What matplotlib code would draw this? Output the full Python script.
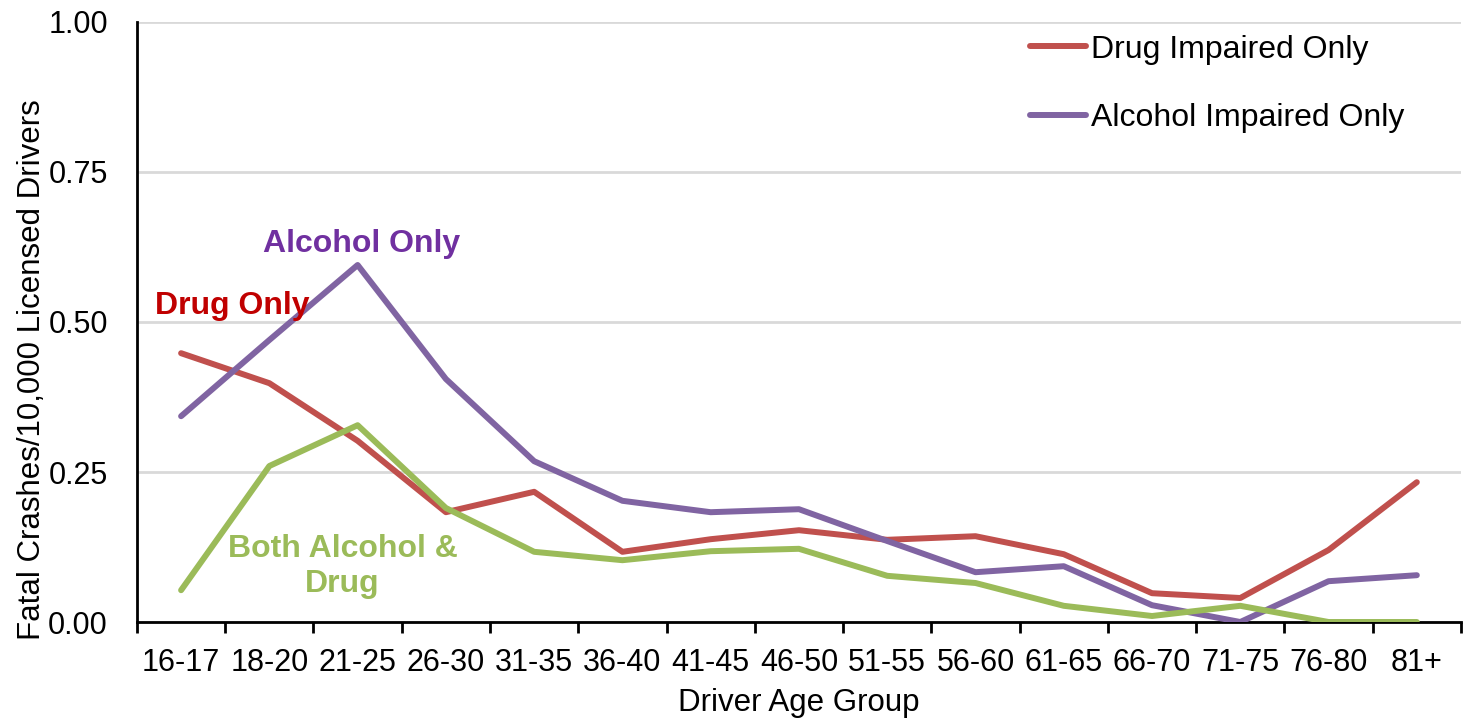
import matplotlib.pyplot as plt
import numpy as np

plt.rcParams['font.family'] = ['Liberation Sans', 'DejaVu Sans']

age_groups = ['16-17', '18-20', '21-25', '26-30', '31-35', '36-40', '41-45',
              '46-50', '51-55', '56-60', '61-65', '66-70', '71-75', '76-80', '81+']
drug_only = [0.448, 0.398, 0.302, 0.183, 0.217, 0.117, 0.138, 0.153,
             0.137, 0.143, 0.113, 0.048, 0.040, 0.120, 0.233]
alcohol_only = [0.343, 0.470, 0.595, 0.405, 0.268, 0.202, 0.183, 0.188,
                0.135, 0.083, 0.093, 0.028, 0.000, 0.068, 0.078]
both = [0.053, 0.260, 0.328, 0.190, 0.117, 0.103, 0.118, 0.122,
        0.077, 0.065, 0.027, 0.010, 0.027, 0.000, 0.000]

x = np.arange(len(age_groups))

fig = plt.figure(figsize=(14.68, 7.21), dpi=100)
ax = fig.add_axes([0.0933, 0.1373, 0.9019, 0.8322])

lw = 4.3
ax.plot(x, drug_only, color='#C0504D', lw=lw, solid_capstyle='round', solid_joinstyle='round',
        label='Drug Impaired Only', zorder=3)
ax.plot(x, alcohol_only, color='#8064A2', lw=lw, solid_capstyle='round', solid_joinstyle='round',
        label='Alcohol Impaired Only', zorder=3)
ax.plot(x, both, color='#9BBB59', lw=lw, solid_capstyle='round', solid_joinstyle='round', zorder=3)

ax.set_xlim(-0.5, len(age_groups) - 0.5)
ax.set_ylim(0, 1.0)
ax.set_yticks([0, 0.25, 0.5, 0.75, 1.0])
ax.set_yticklabels([f'{v:.2f}' for v in [0, 0.25, 0.5, 0.75, 1.0]])
ax.tick_params(axis='y', length=0, pad=21, labelsize=22)
ax.yaxis.grid(True, color='#D9D9D9', lw=2)
ax.set_axisbelow(True)

# category boundaries carry the tick marks, centers carry the labels
ax.set_xticks(np.arange(len(age_groups) + 1) - 0.5)
ax.set_xticklabels([])
ax.set_xticks(x, minor=True)
ax.set_xticklabels(age_groups, minor=True)
ax.tick_params(axis='x', which='major', length=8, width=2, direction='out')
ax.tick_params(axis='x', which='minor', length=0, pad=19, labelsize=22)

for side in ['top', 'right']:
    ax.spines[side].set_visible(False)
for side in ['left', 'bottom']:
    ax.spines[side].set_linewidth(2)

ax.set_xlabel('Driver Age Group', fontsize=22.5, labelpad=7)
ax.set_ylabel('Fatal Crashes/10,000 Licensed Drivers', fontsize=22.5)
ax.yaxis.set_label_coords(-0.068, 0.42)

ax.text(2.04, 0.63, 'Alcohol Only', color='#7030A0', fontsize=23, fontweight='bold', ha='center', va='center')
ax.text(0.58, 0.527, 'Drug Only', color='#C00000', fontsize=23, fontweight='bold', ha='center', va='center')
ax.text(1.83, 0.093, 'Both Alcohol &\nDrug', color='#9BBB59', fontsize=23, fontweight='bold',
        ha='center', va='center', linespacing=1.2)

ax.legend(loc='upper left', bbox_to_anchor=(0.6745, 0.979), frameon=False, fontsize=23,
          borderpad=0, borderaxespad=0, handlelength=1.75, handletextpad=0.15, labelspacing=1.2)

fig.savefig('out.png', dpi=100)
